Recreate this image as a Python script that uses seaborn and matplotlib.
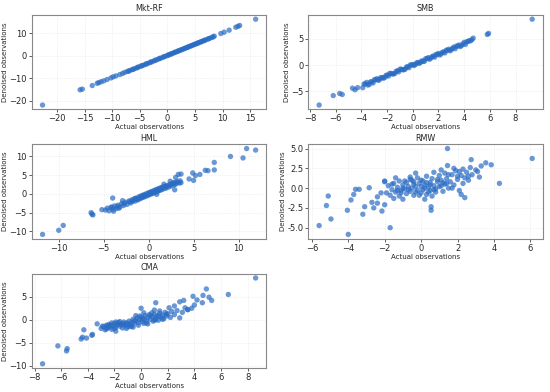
import numpy as np
import seaborn as sns
import matplotlib
matplotlib.use('Agg')
import matplotlib.pyplot as plt
import pandas as pd

sns.set_style('whitegrid')
plt.rcParams['font.family'] = ['DejaVu Sans']

# ---------------------------------------------------------------------------
# values (actual vs denoised observations)
# ---------------------------------------------------------------------------
mkt_x = [-22.6, -15.8, -15.4, -13.6, -12.7, -12.4, -12.0, -11.5, -10.9, -10.2, -9.8, -9.3, -8.6,
         -8.1, -7.7, -7.2, -6.8, -6.4, -6.0, -5.6, -5.2, -4.8, -4.4, -4.0, -3.6, -3.2, -2.8, -2.4,
         -2.0, -1.6, -1.2, -0.8, -0.4, 0.0, 0.3, 0.6, 0.9, 1.2, 1.5, 1.8, 2.1, 2.4, 2.7, 3.0, 3.3,
         3.6, 3.9, 4.2, 4.5, 4.8, 5.1, 5.4, 5.7, 6.0, 6.3, 6.6, 6.9, 7.3, 7.7, 8.1, 8.5, 9.7, 10.3,
         11.2, 12.4, 12.8, 13.1, 16.0,
         -7.0, -6.2, -5.4, -4.6, -3.8, -3.0, -2.2, -1.4, -0.6, 0.15, 0.75, 1.35, 1.95, 2.55, 3.15,
         3.75, 4.35, 4.95, 5.55, 6.15, 6.75, 7.5, 8.3]
mkt_y = [-22.0, -15.2, -14.9, -13.3, -12.3, -12.0, -11.6, -11.2, -10.6, -9.9, -9.4, -9.0, -8.4,
         -7.9, -7.4, -7.0, -6.6, -6.2, -5.8, -5.5, -5.0, -4.7, -4.3, -3.9, -3.5, -3.1, -2.7, -2.3,
         -1.9, -1.5, -1.1, -0.7, -0.3, 0.1, 0.4, 0.7, 1.0, 1.3, 1.6, 1.9, 2.2, 2.5, 2.8, 3.1, 3.4,
         3.7, 4.0, 4.3, 4.6, 4.9, 5.2, 5.5, 5.8, 6.1, 6.4, 6.7, 7.0, 7.4, 7.8, 8.2, 8.7, 9.9, 10.5,
         11.4, 12.7, 13.1, 13.5, 16.3,
         -6.9, -6.1, -5.2, -4.4, -3.6, -2.8, -2.0, -1.2, -0.4, 0.3, 0.9, 1.5, 2.1, 2.7, 3.3,
         3.9, 4.5, 5.1, 5.7, 6.3, 6.9, 7.6, 8.4]

smb_x = [-7.3, -6.2, -5.7, -5.5, -4.7, -4.5, -4.3, 5.8, 5.9, 9.3,
         -3.9, -3.7, -3.5, -3.3, -3.1, -2.9, -2.7, -2.5, -2.3, -2.1, -1.9, -1.7, -1.5, -1.3, -1.1,
         -0.9, -0.7, -0.5, -0.3, -0.1, 0.1, 0.3, 0.5, 0.7, 0.9, 1.1, 1.3, 1.5, 1.7, 1.9, 2.1, 2.3,
         2.5, 2.7, 2.9, 3.1, 3.3, 3.5, 3.7, 3.9, 4.1, 4.3, 4.5, 4.7,
         -3.8, -3.4, -3.0, -2.6, -2.2, -1.8, -1.4, -1.0, -0.6, -0.2, 0.2, 0.6, 1.0, 1.4, 1.8, 2.2,
         2.6, 3.0, 3.4, 3.8, 4.2, 4.6,
         -3.6, -3.2, -2.8, -2.4, -2.0, -1.6, -1.2, -0.8, -0.4, 0.0, 0.4, 0.8, 1.2, 1.6, 2.0, 2.4,
         2.8, 3.2, 3.6, 4.0, 4.4]
smb_y = [-7.6, -5.8, -5.4, -5.6, -4.4, -4.7, -4.3, 5.8, 6.0, 8.7,
         -4.3, -3.6, -3.8, -3.2, -3.4, -2.8, -2.9, -2.4, -2.5, -2.0, -2.1, -1.6, -1.7, -1.2, -1.3,
         -0.8, -0.9, -0.4, -0.5, 0.0, -0.1, 0.4, 0.3, 0.8, 0.7, 1.2, 1.1, 1.6, 1.5, 2.0, 1.9, 2.4,
         2.3, 2.8, 2.7, 3.2, 3.1, 3.6, 3.5, 4.0, 3.9, 4.5, 4.6, 5.1,
         -3.6, -3.7, -2.8, -2.8, -2.4, -1.6, -1.6, -0.8, -0.8, 0.0, 0.1, 0.5, 1.2, 1.3, 2.0, 2.1,
         2.8, 2.9, 3.6, 3.7, 4.4, 4.8,
         -3.3, -3.2, -2.6, -2.4, -1.9, -1.7, -1.1, -0.9, -0.3, 0.1, 0.5, 0.7, 1.4, 1.7, 2.2, 2.5,
         3.0, 3.4, 3.8, 4.3, 4.6]

hml_x = [-11.8, -10.0, -9.5, -6.4, -6.3, -6.2, -5.2, -4.0, 4.5, 5.0, 5.2, 5.7, 6.3, 7.3, 7.3,
         9.1, 10.5, 10.9, 11.9, 4.9, 6.6, 3.3, 3.6, 3.0, 2.9,
         -4.8, -4.6, -4.4, -4.2, -4.0, -3.8, -3.6, -3.4, -3.2, -3.0, -2.8, -2.6, -2.4, -2.2, -2.0,
         -1.9, -1.8, -1.6, -1.5, -1.4, -1.2, -1.1, -1.0, -0.9, -0.8, -0.7, -0.6, -0.5, -0.4, -0.3,
         -0.2, -0.1, 0.0, 0.1, 0.2, 0.3, 0.4, 0.5, 0.6, 0.7, 0.8, 0.9, 1.0, 1.1, 1.2, 1.3, 1.4,
         1.5, 1.6, 1.8, 1.9, 2.0, 2.2, 2.3, 2.5, 2.6, 2.8, 2.9, 3.0, 3.2, 3.4, 3.5, 3.6, 2.4, 1.7,
         -3.9, -2.9, 0.9,
         -3.5, -2.7, -2.1, -1.7, -1.3, -0.85, -0.45, -0.05, 0.35, 0.75, 1.15, 1.55, 1.95, 2.35,
         2.75, 3.15, -1.5, -0.6, 0.2, 1.0, 1.8, -4.1, -3.3]
hml_y = [-10.8, -9.7, -8.4, -5.0, -5.4, -5.6, -4.2, -1.1, 4.0, 3.6, 4.9, 5.2, 6.3, 8.4, 6.4,
         10.0, 9.6, 12.1, 11.7, 5.6, 6.2, 5.2, 5.3, 4.4, 1.1,
         -4.3, -3.8, -4.5, -3.6, -4.1, -3.2, -3.9, -3.0, -3.5, -2.6, -3.1, -2.2, -2.8, -1.9, -2.4,
         -1.6, -2.0, -1.3, -1.9, -1.1, -1.6, -0.8, -1.3, -0.6, -1.1, -0.4, -0.9, -0.2, -0.7, 0.0,
         -0.5, 0.2, -0.3, 0.4, -0.1, 0.6, 0.1, 0.8, 0.3, 1.0, 0.5, 1.2, 0.7, 1.4, 0.9, 1.6, 1.1,
         1.8, 1.3, 2.0, 1.5, 2.2, 1.8, 2.5, 2.1, 2.8, 2.4, 3.1, 2.6, 3.3, 2.9, 3.5, 3.0, 3.4, 2.6,
         -4.6, -1.8, -0.1,
         -3.4, -2.6, -2.1, -1.7, -1.4, -0.9, -0.5, -0.1, 0.3, 0.8, 1.1, 1.6, 1.9, 2.3,
         2.9, 3.0, -1.3, -0.5, 0.3, 1.0, 1.9, -3.5, -3.8]

rmw_x = [-5.6, -5.2, -5.1, -4.95, -4.05, -4.0, -3.85, -3.7, -3.6, -3.4, -3.2, -3.1, -2.85, -2.7,
         -2.6, -2.4, -2.15, -2.0, -2.0, -1.7, 1.45, 1.45, 2.75, 3.55, 3.85, 4.3, 6.1, 0.55, 0.55,
         2.4, 2.2,
         -1.9, -1.8, -1.7, -1.6, -1.5, -1.5, -1.4, -1.3, -1.2, -1.2, -1.1, -1.0, -1.0, -0.9, -0.8,
         -0.8, -0.7, -0.6, -0.6, -0.5, -0.4, -0.4, -0.3, -0.2, -0.2, -0.1, 0.0, 0.0, 0.1, 0.1, 0.2,
         0.3, 0.3, 0.4, 0.5, 0.5, 0.6, 0.7, 0.7, 0.8, 0.9, 1.0, 1.0, 1.1, 1.2, 1.3, 1.3, 1.4, 1.5,
         1.6, 1.7, 1.8, 1.9, 2.0, 2.1, 2.2, 2.3, 2.3, 2.4, 2.5, 2.6, 2.7, 2.8, 3.0, 3.2, 3.3, -0.3,
         0.2, -1.4, 1.1, 0.6, -2.2, -2.4, -2.0,
         -1.6, -1.3, -1.0, -0.7, -0.4, -0.1, 0.2, 0.5, 0.8, 1.1, 1.4, 1.7, 2.0, -0.9, -0.3, 0.3,
         0.9, 1.5, 2.1, -1.1, -0.5, 0.4, 1.2, 1.8, 2.6, 3.1, -0.6, 0.0, 0.7]
rmw_y = [-4.73, -2.2, -1.0, -3.9, -2.8, -5.85, -1.5, -0.8, -0.15, -0.15, -3.3, -2.35, 0.05, -1.8,
         -2.5, -1.9, -2.9, -2.1, 0.9, -5.0, 5.0, 2.85, 3.6, 3.2, 2.95, 0.6, 3.75, -2.35, -2.8,
         -1.2, -0.8,
         -0.6, 0.3, -0.9, -0.2, -1.3, 0.6, -0.5, 0.1, -1.0, 0.9, -0.3, 0.4, -1.4, -0.1, 0.7,
         -0.7, 0.2, -0.4, 1.1, 0.0, -0.9, 0.5, 0.2, -0.3, 1.3, 0.6, -0.6, 0.2, 0.9, -0.2, 0.4,
         1.5, -0.8, 0.1, 0.7, -0.3, 1.2, 0.3, 2.0, -0.5, 0.8, 0.2, 1.6, 1.0, -0.4, 0.5, 1.9, 1.2,
         0.0, 0.8, 1.7, 0.4, 2.2, 1.1, -0.3, 1.6, 2.4, 0.6, 1.3, 2.0, 1.0, 2.6, 1.7, 2.3, 1.4, 2.8,
         1.9, -1.4, 1.3, 2.3, -1.0, -0.6, -1.1, 0.8,
         0.5, -0.3, 0.0, -0.2, 0.8, -0.9, 0.0, 0.4, -0.1, 0.3, 0.6, 0.0, 1.5, 0.9, -0.5, 0.7,
         1.1, 1.7, 2.1, -0.6, 1.0, -0.5, 0.7, 2.5, 1.5, 2.1, 1.4, 1.0, -0.2]

cma_x = [-7.4, -6.25, -5.6, -5.55, -4.5, -4.4, -4.3, -4.1, -3.7, -3.65, -3.3, 0.0, 1.1, 3.2, 3.9,
         4.9, 4.65, 5.1, 4.6, 6.55, 8.6, 3.5, 4.2, 5.3, 4.0, 2.9, 3.8,
         -3.0, -2.8, -2.7, -2.6, -2.5, -2.4, -2.3, -2.2, -2.1, -2.0, -1.9, -1.8, -1.7, -1.6, -1.5,
         -1.4, -1.3, -1.2, -1.1, -1.0, -0.9, -0.8, -0.7, -0.6, -0.5, -0.4, -0.3, -0.2, -0.1, 0.0,
         0.1, 0.2, 0.3, 0.4, 0.5, 0.6, 0.7, 0.8, 0.9, 1.0, 1.1, 1.2, 1.3, 1.4, 1.5, 1.6, 1.7, 1.8,
         1.9, 2.0, 2.2, 2.3, 2.5, 2.7, 2.9, 3.1, 3.3, 3.5, -0.6, 0.2, -1.9, 1.0, 2.1, 2.5,
         -2.9, -2.6, -2.3, -2.0, -1.7, -1.4, -1.1, -0.8, -0.5, -0.2, 0.1, 0.4, 0.7, 1.0, 1.3, 1.6,
         1.9, -2.2, -1.6, -1.0, -0.4, 0.2, 0.8, 1.4, -1.3, -0.7, -0.1, 0.5, 1.1, -2.5, -1.9]
cma_y = [-9.6, -5.7, -6.8, -6.3, -4.2, -3.8, -2.2, -4.0, -3.4, -3.2, -0.9, 2.5, 3.7, 4.2, 5.1,
         6.7, 5.3, 4.9, 3.7, 5.5, 9.1, 2.2, 4.3, 4.2, 3.2, 3.9, 2.5,
         -1.9, -1.5, -2.2, -1.2, -1.8, -1.0, -1.6, -2.1, -1.3, -0.8, -1.7, -1.1, -0.6, -1.4, -0.9,
         -1.8, -0.5, -1.2, -0.7, -1.5, -0.3, -1.0, -0.5, 0.1, -0.8, -0.2, 0.4, -0.6, 0.0, 0.6,
         -0.4, 0.2, 0.9, -0.2, 0.5, 1.1, 0.1, 0.7, -0.3, 1.2, 0.4, 0.9, -0.1, 1.4, 0.6, 1.0, 0.2,
         1.6, 0.8, 1.3, 0.5, 1.8, 1.1, 2.0, 0.4, 1.6, 2.6, 2.2, -1.6, 1.5, -2.5, 2.1, 2.6, 3.0,
         -1.4, -2.0, -1.2, -1.9, -1.0, -1.1, -1.9, -1.5, -0.3, -1.2, 0.2, -0.7, 0.9, -0.1, 0.7, 0.1,
         1.2, -0.7, -0.4, -0.9, 0.9, -0.8, 1.5, 1.9, -0.9, -1.4, 0.8, -0.9, 0.0, -1.3, -0.5]

panels = [('Mkt-RF', mkt_x, mkt_y), ('SMB', smb_x, smb_y), ('HML', hml_x, hml_y),
          ('RMW', rmw_x, rmw_y), ('CMA', cma_x, cma_y)]
xticks = [[-20, -15, -10, -5, 0, 5, 10, 15], [-8, -6, -4, -2, 0, 2, 4, 6, 8],
          [-10, -5, 0, 5, 10], [-6, -4, -2, 0, 2, 4, 6], [-8, -6, -4, -2, 0, 2, 4, 6, 8]]
yticks = [[-20, -10, 0, 10], [-5, 0, 5], [-10, -5, 0, 5, 10],
          [-5.0, -2.5, 0.0, 2.5, 5.0], [-10, -5, 0, 5]]

fig, axes = plt.subplots(3, 2, figsize=(5.5, 3.92), dpi=100)
plt.subplots_adjust(left=0.058, right=0.987, bottom=0.061, top=0.962, wspace=0.18, hspace=0.37)

for i, (name, xs, ys) in enumerate(panels):
    ax = axes.flat[i]
    df = pd.DataFrame({'actual': xs, 'denoised': ys})
    sns.scatterplot(x='actual', y='denoised', data=df, ax=ax, color='#2a6cc4',
                    alpha=0.7, s=15, edgecolor='none')
    ax.set_title(name, fontsize=5.8, pad=2.5)
    ax.set_xlabel('Actual observations', fontsize=5, labelpad=0.5)
    ax.set_ylabel('Denoised observations', fontsize=5, labelpad=1)
    ax.set_xticks(xticks[i])
    ax.set_yticks(yticks[i])
    if i == 3:
        ax.set_yticklabels(['-5.0', '-2.5', '0.0', '2.5', '5.0'])
    ax.tick_params(labelsize=6, length=2.5, width=0.6, pad=1.2, bottom=True, left=True,
                   color='#444444')
    ax.grid(True, color='#e4e4e4', linewidth=0.5, linestyle=':')
    for sp in ax.spines.values():
        sp.set_color('#888888')
        sp.set_linewidth(0.8)

axes.flat[5].axis('off')

plt.savefig('out.png', dpi=100)
